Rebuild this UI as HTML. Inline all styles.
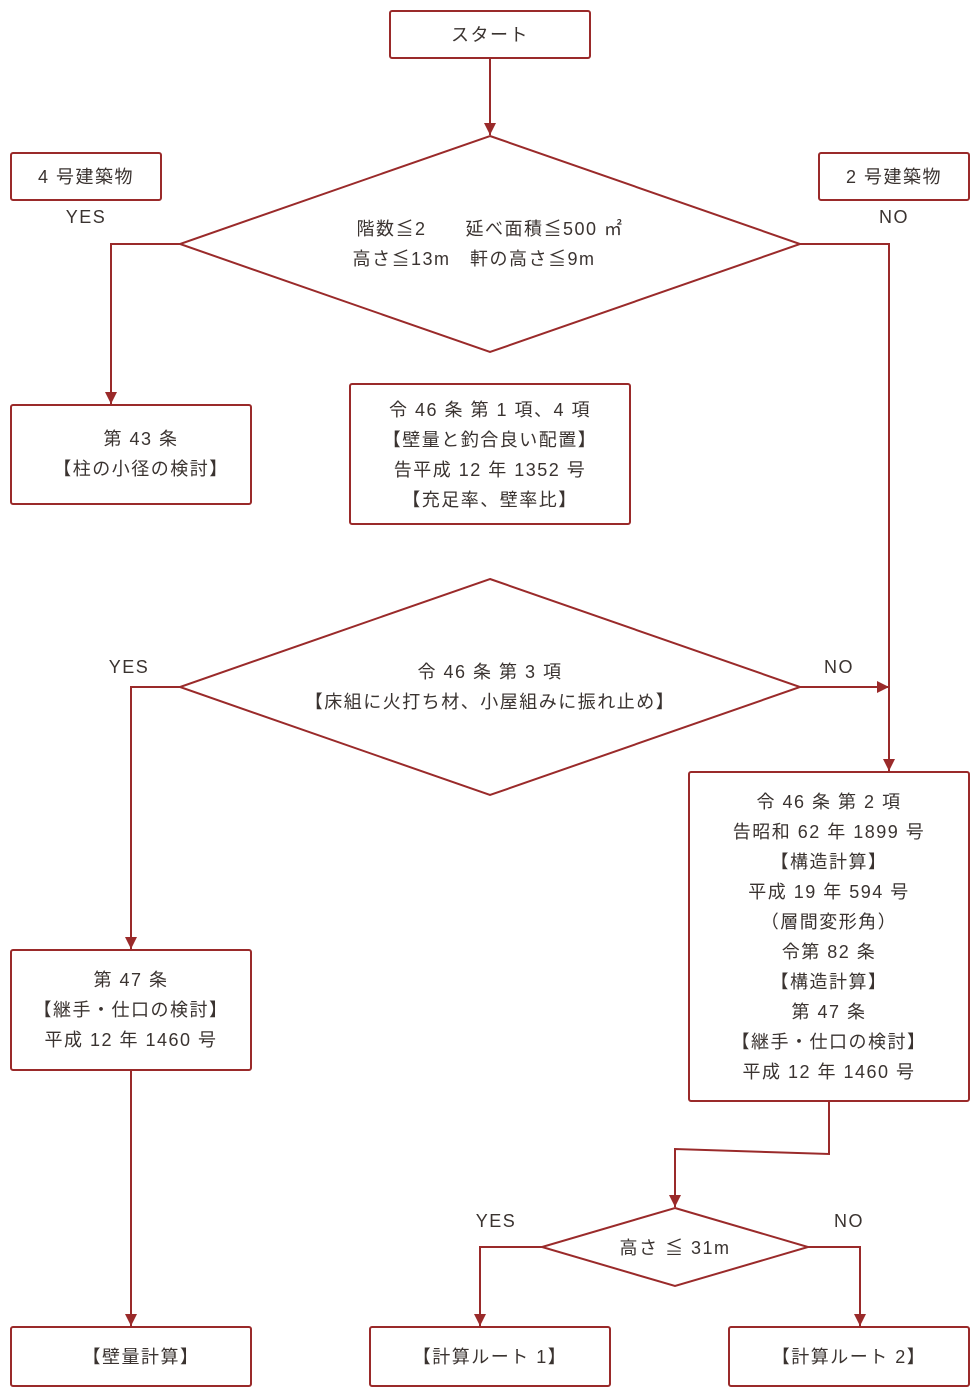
<!DOCTYPE html>
<html><head><meta charset="utf-8"><style>
html,body{margin:0;padding:0;background:#fff;width:980px;height:1400px;overflow:hidden}
svg text{font-family:"Liberation Sans","Noto Sans CJK JP",sans-serif;font-size:18px;fill:#3a3330;letter-spacing:1.5px}
</style></head><body>
<svg width="980" height="1400" xmlns="http://www.w3.org/2000/svg">
<defs><marker id="a" markerWidth="12" markerHeight="12" refX="12" refY="6" orient="auto" markerUnits="userSpaceOnUse"><path d="M0,0 L12,6 L0,12 z" fill="#9a2a2a"/></marker></defs>
<g fill="none" stroke="#9a2a2a" stroke-width="2">
<rect x="390" y="11" width="200" height="47" rx="2"/>
<rect x="11" y="153" width="150" height="47" rx="2"/>
<rect x="819" y="153" width="150" height="47" rx="2"/>
<polygon points="490,136 800,244 490,352 180,244"/>
<rect x="11" y="405" width="240" height="99" rx="2"/>
<rect x="350" y="384" width="280" height="140" rx="2"/>
<polygon points="490,579 800,687 490,795 180,687"/>
<rect x="689" y="772" width="280" height="329" rx="2"/>
<rect x="11" y="950" width="240" height="120" rx="2"/>
<polygon points="675,1208 808,1247 675,1286 542,1247"/>
<rect x="11" y="1327" width="240" height="59" rx="2"/>
<rect x="370" y="1327" width="240" height="59" rx="2"/>
<rect x="729" y="1327" width="240" height="59" rx="2"/>
<path d="M490,58 V135" marker-end="url(#a)"/>
<path d="M180,244 H111 V404" marker-end="url(#a)"/>
<path d="M800,244 H889 V771" marker-end="url(#a)"/>
<path d="M800,687 H889" marker-end="url(#a)"/>
<path d="M180,687 H131 V949" marker-end="url(#a)"/>
<path d="M131,1070 V1326" marker-end="url(#a)"/>
<path d="M829,1101 V1154 L675,1149 V1207" marker-end="url(#a)"/>
<path d="M542,1247 H480 V1326" marker-end="url(#a)"/>
<path d="M808,1247 H860 V1326" marker-end="url(#a)"/>
</g>
<g text-anchor="middle">
<text x="490" y="41">スタート</text>
<text x="86" y="183">4 号建築物</text>
<text x="894" y="183">2 号建築物</text>
<text x="86" y="223" font-size="16">YES</text>
<text x="894" y="223" font-size="16">NO</text>
<text x="490" y="235" xml:space="preserve">階数≦2　　延べ面積≦500 ㎡</text>
<text x="474" y="265" xml:space="preserve">高さ≦13m　軒の高さ≦9m</text>
<text x="141" y="445">第 43 条</text>
<text x="141" y="475">【柱の小径の検討】</text>
<text x="490" y="416">令 46 条 第 1 項、4 項</text>
<text x="490" y="446">【壁量と釣合良い配置】</text>
<text x="490" y="476">告平成 12 年 1352 号</text>
<text x="490" y="506">【充足率、壁率比】</text>
<text x="129" y="673" font-size="16">YES</text>
<text x="839" y="673" font-size="16">NO</text>
<text x="490" y="678">令 46 条 第 3 項</text>
<text x="490" y="708">【床組に火打ち材、小屋組みに振れ止め】</text>
<text x="829" y="808">令 46 条 第 2 項</text>
<text x="829" y="838">告昭和 62 年 1899 号</text>
<text x="829" y="868">【構造計算】</text>
<text x="829" y="898">平成 19 年 594 号</text>
<text x="829" y="928">（層間変形角）</text>
<text x="829" y="958">令第 82 条</text>
<text x="829" y="988">【構造計算】</text>
<text x="829" y="1018">第 47 条</text>
<text x="829" y="1048">【継手・仕口の検討】</text>
<text x="829" y="1078">平成 12 年 1460 号</text>
<text x="131" y="986">第 47 条</text>
<text x="131" y="1016">【継手・仕口の検討】</text>
<text x="131" y="1046">平成 12 年 1460 号</text>
<text x="496" y="1227" font-size="16">YES</text>
<text x="849" y="1227" font-size="16">NO</text>
<text x="675" y="1254">高さ ≦ 31m</text>
<text x="141" y="1363">【壁量計算】</text>
<text x="490" y="1363">【計算ルート 1】</text>
<text x="849" y="1363">【計算ルート 2】</text>
</g>
</svg>
</body></html>
